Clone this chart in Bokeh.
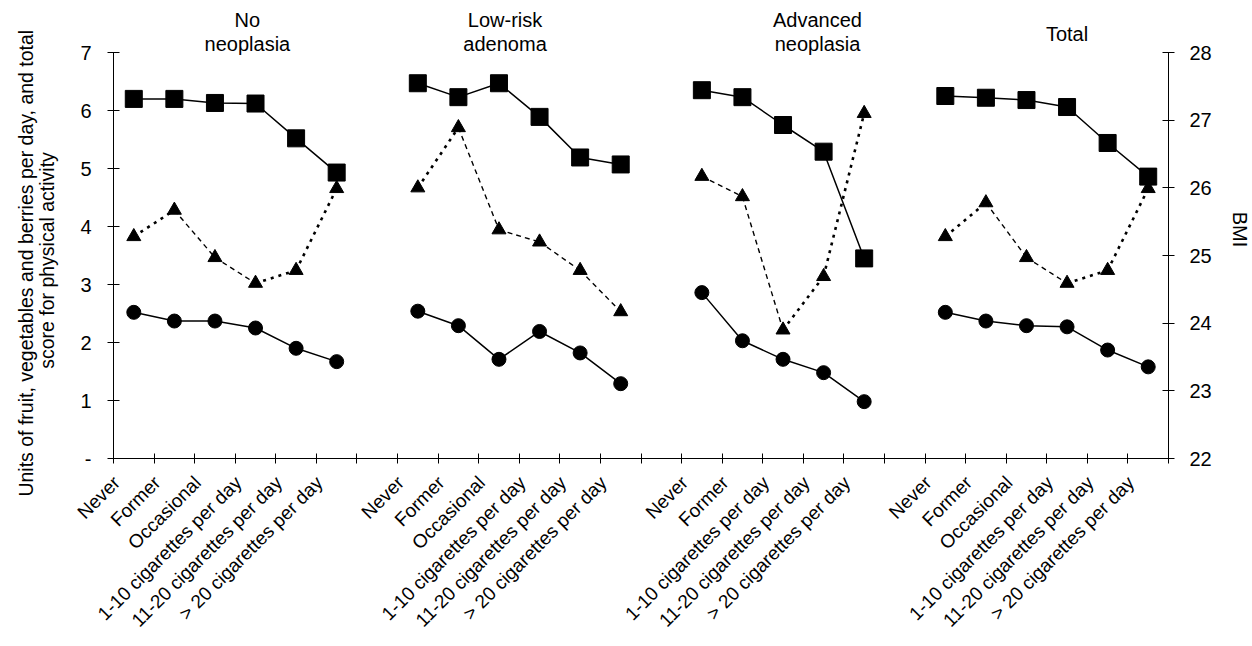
import numpy as np
from bokeh.plotting import figure
from bokeh.layouts import row
from bokeh.models import Range1d, LinearAxis, FixedTicker
from bokeh.core.properties import value
from bokeh.embed import file_html
from bokeh.resources import INLINE

# ---------------- data ----------------
groups = ["No neoplasia", "Low-risk adenoma", "Advanced neoplasia", "Total"]
title_lines = [["No", "neoplasia"], ["Low-risk", "adenoma"], ["Advanced", "neoplasia"], ["Total"]]
cats_full = ["Never", "Former", "Occasional", "1-10 cigarettes per day",
             "11-20 cigarettes per day", "> 20 cigarettes per day"]
cats_adv = ["Never", "Former", "1-10 cigarettes per day",
            "11-20 cigarettes per day", "> 20 cigarettes per day"]
group_cats = [cats_full, cats_full, cats_adv, cats_full]

# total score for physical activity (left axis)
activity_no = [6.20, 6.20, 6.13, 6.12, 5.52, 4.93]
activity_low = [6.47, 6.23, 6.47, 5.89, 5.19, 5.07]
activity_adv = [6.35, 6.23, 5.75, 5.29, 3.45]
activity_tot = [6.25, 6.22, 6.18, 6.06, 5.44, 4.86]

# units of fruit, vegetables and berries per day (left axis)
fruit_no = [2.52, 2.37, 2.37, 2.25, 1.90, 1.67]
fruit_low = [2.54, 2.29, 1.71, 2.19, 1.82, 1.29]
fruit_adv = [2.86, 2.03, 1.71, 1.48, 0.98]
fruit_tot = [2.52, 2.37, 2.29, 2.27, 1.87, 1.58]

# BMI (right axis)
bmi_no = [25.28, 25.67, 24.97, 24.59, 24.78, 25.99]
bmi_low = [26.00, 26.89, 25.38, 25.20, 24.78, 24.17]
bmi_adv = [26.17, 25.87, 23.90, 24.69, 27.10]
bmi_tot = [25.28, 25.78, 24.97, 24.59, 24.78, 25.99]

activity = [activity_no, activity_low, activity_adv, activity_tot]
fruit = [fruit_no, fruit_low, fruit_adv, fruit_tot]
bmi = [bmi_no, bmi_low, bmi_adv, bmi_tot]

left_ticks = [0, 1, 2, 3, 4, 5, 6, 7]
right_ticks = [22, 23, 24, 25, 26, 27, 28]
y_label_lines = ["Units of fruit, vegetables and berries per day,  and total",
                 "score for physical activity"]

FONT = "Liberation Sans"
FS = "20px"
FS_CAT = "19px"

# ---------------- geometry ----------------
H = 638            # total height
PLOT_H = 406       # pixel height of the 0..7 (22..28) span
TOP = 52           # pixel y of value 7 / 28
FW = 1055          # frame width
LW = 62            # width of the strip holding the left axis title
LB = 113 - LW      # left border of main figure
RB = 76
frame_h = TOP + PLOT_H
y_top = 7 * frame_h / PLOT_H
b_top = 22 + 6 * frame_h / PLOT_H

starts = []
s = 0
for cats in group_cats:
    starts.append(s)
    s += len(cats) + 1
n_slots = s - 1
xmax = 2 * n_slots

p = figure(frame_width=FW, frame_height=frame_h,
           x_range=Range1d(0, xmax), y_range=Range1d(0, y_top),
           output_backend="svg", toolbar_location=None,
           min_border_left=LB, min_border_right=RB,
           min_border_top=0, min_border_bottom=H - frame_h)
p.extra_y_ranges = {"bmi": Range1d(22, b_top)}
p.grid.visible = False
p.outline_line_color = None

label_shift = 0.85  # rotated labels end a little left of the category centre
centers = []
overrides = {}
up_x, up_y, dn_x, dn_y = [], [], [], []
for g, cats in enumerate(group_cats):
    xs = [2 * (starts[g] + i) + 1 for i in range(len(cats))]
    for xv, c in zip(xs, cats):
        centers.append(xv - label_shift)
        overrides[xv - label_shift] = c
    # BMI dotted connector, drawn per segment (rising parts look heavier)
    for i in range(len(xs) - 1):
        seg_x = [xs[i], xs[i + 1]]
        seg_y = [bmi[g][i], bmi[g][i + 1]]
        if bmi[g][i + 1] >= bmi[g][i]:
            up_x.append(seg_x); up_y.append(seg_y)
        else:
            dn_x.append(seg_x); dn_y.append(seg_y)
    p.line(xs, activity[g], line_color="black", line_width=1.5)
    p.scatter(xs, activity[g], marker="square", size=17,
              fill_color="black", line_color="black")
    p.line(xs, fruit[g], line_color="black", line_width=1.5)
    p.scatter(xs, fruit[g], marker="circle", size=14,
              fill_color="black", line_color="black")

p.multi_line(up_x, up_y, y_range_name="bmi", line_color="black",
             line_width=2.6, line_dash="3 5")
p.multi_line(dn_x, dn_y, y_range_name="bmi", line_color="black",
             line_width=1.4, line_dash="5 4")
for g, cats in enumerate(group_cats):
    xs = [2 * (starts[g] + i) + 1 for i in range(len(cats))]
    p.scatter(xs, bmi[g], y_range_name="bmi", marker="triangle", size=14,
              fill_color="black", line_color="black")

# group titles (inside the frame, above the 7 line)
title_x = [6.6, 19.3, 34.7, 47.0]
tx, ty, tt = [], [], []
for g, lines in enumerate(title_lines):
    ys = [(frame_h - 19) / 58, (frame_h - 43) / 58] if len(lines) == 2 else [(frame_h - 33) / 58]
    for txt, yv in zip(lines, ys):
        tx.append(title_x[g])
        ty.append(yv)
        tt.append(txt)
p.text(x=tx, y=ty, text=tt, text_align="center", text_baseline="middle",
       text_font=value(FONT), text_font_size=FS, text_color="black")

# x axis
xa = p.xaxis[0]
xa.ticker = FixedTicker(ticks=centers, minor_ticks=list(range(0, xmax + 1, 2)))
xa.major_label_overrides = overrides
xa.major_tick_in = 0
xa.major_tick_out = 0
xa.minor_tick_in = 5
xa.minor_tick_out = 5
xa.minor_tick_line_color = "black"
xa.axis_line_color = "black"
xa.major_label_orientation = np.pi / 4
xa.major_label_text_font = FONT
xa.major_label_text_font_size = FS_CAT
xa.major_label_text_color = "black"
xa.major_label_standoff = 16

# left axis
ya = p.yaxis[0]
ya.ticker = FixedTicker(ticks=left_ticks)
ya.bounds = (0, 7)
ya.major_label_overrides = {0: "-"}
ya.major_tick_in = 6
ya.major_tick_out = 6
ya.minor_tick_line_color = None
ya.axis_line_color = "black"
ya.major_tick_line_color = "black"
ya.major_label_text_font = FONT
ya.major_label_text_font_size = FS
ya.major_label_text_color = "black"
ya.major_label_standoff = 16

# right axis
ra = LinearAxis(y_range_name="bmi", ticker=FixedTicker(ticks=right_ticks), bounds=(22, 28))
ra.major_tick_in = 6
ra.major_tick_out = 6
ra.minor_tick_line_color = None
ra.axis_line_color = "black"
ra.major_tick_line_color = "black"
ra.major_label_text_font = FONT
ra.major_label_text_font_size = FS
ra.major_label_text_color = "black"
ra.major_label_standoff = 15
ra.axis_label = "BMI"
ra.axis_label_text_font = FONT
ra.axis_label_text_font_size = FS
ra.axis_label_text_font_style = "normal"
ra.axis_label_text_color = "black"
ra.axis_label_standoff = 14
p.add_layout(ra, "right")

# ---------------- strip with the left axis title ----------------
lf = figure(frame_width=LW, frame_height=H, x_range=Range1d(0, LW), y_range=Range1d(0, H),
            output_backend="svg", toolbar_location=None,
            x_axis_location=None, y_axis_location=None,
            min_border_left=0, min_border_right=0, min_border_top=0, min_border_bottom=0)
lf.grid.visible = False
lf.outline_line_color = None
lf.text(x=[25, 46], y=[H - 260, H - 260], text=y_label_lines, angle=np.pi / 2,
        text_align="center", text_baseline="middle",
        text_font=value(FONT), text_font_size="19.5px", text_color="black")

layout = row(lf, p, spacing=0)
open("out.html", "w").write(file_html(layout, INLINE))
